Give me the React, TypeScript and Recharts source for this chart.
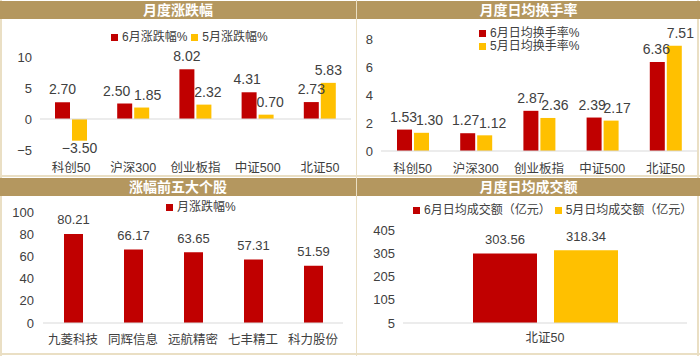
import React from 'react'
import { Bar, BarChart, LabelList, ReferenceLine, XAxis, YAxis } from 'recharts'

// 四宫格：月度涨跌幅 / 月度日均换手率 / 涨幅前五大个股 / 月度日均成交额

const indexNames = ['科创50', '沪深300', '创业板指', '中证500', '北证50']
const juneChange = [2.7, 2.5, 8.02, 4.31, 2.73]
const mayChange = [-3.5, 1.85, 2.32, 0.7, 5.83]
const changeTicks = [-5, 0, 5, 10]

const juneTurnover = [1.53, 1.27, 2.87, 2.39, 6.36]
const mayTurnover = [1.3, 1.12, 2.36, 2.17, 7.51]
const turnoverTicks = [0, 2, 4, 6, 8]

const topStockNames = ['九菱科技', '同辉信息', '远航精密', '七丰精工', '科力股份']
const topStockChange = [80.21, 66.17, 63.65, 57.31, 51.59]
const topStockTicks = [0, 20, 40, 60, 80, 100]

const volumeNames = ['北证50']
const juneVolume = [303.56]
const mayVolume = [318.34]
const volumeTicks = [5, 105, 205, 305, 405]

// 数据标签的水平微调（避免相邻标签重叠，仿原图手动排布）
const changeJunNudge = [0, -8, 0, -2, 0]
const changeMayNudge = [0, 6, 4, 4, 0]
const turnoverJunNudge = [-1, -2, 0, -2, -1]
const turnoverMayNudge = [8, 8, 7, 6, 6]

const RED = '#C00000'
const GOLD = '#FFC000'
const HEADER = '#B4975F'
const EDGE = '#EADFC4'
const TEXT = '#404040'
const AXIS = '#D9D9D9'
const FONT = '"Liberation Sans", "Noto Sans CJK SC", sans-serif'

const changeData = indexNames.map((name, i) => ({ name, jun: juneChange[i], may: mayChange[i] }))
const turnoverData = indexNames.map((name, i) => ({ name, jun: juneTurnover[i], may: mayTurnover[i] }))
const stockData = topStockNames.map((name, i) => ({ name, value: topStockChange[i] }))
const volumeData = volumeNames.map((name, i) => ({ name, jun: juneVolume[i], may: mayVolume[i] }))

const fmtNum = (v: number) => (v < 0 ? '\u2212' + Math.abs(v).toFixed(2) : v.toFixed(2))
const fmtTick = (v: number) => (v < 0 ? '\u2212' + Math.abs(v) : String(v))

const tickStyle = { fill: TEXT, fontSize: 13, fontFamily: FONT }
const catStyle = { fill: TEXT, fontSize: 12.5, fontFamily: FONT }

// 柱顶（负值在柱底）数值标签，可按点水平微调
function valueLabel(nudge: number[] | null, fontSize: number, gap = 5) {
  return (props: any) => {
    const { x, y, width, height, value, index } = props
    const v = Number(value)
    const top = Math.min(y, y + height)
    const bottom = Math.max(y, y + height)
    const cx = x + width / 2 + (nudge ? nudge[index] ?? 0 : 0)
    return (
      <text
        x={cx}
        y={v < 0 ? bottom + 2 : top - gap}
        dy={v < 0 ? '0.75em' : '-0.2em'}
        textAnchor="middle"
        fill={TEXT}
        fontSize={fontSize}
        fontFamily={FONT}
      >
        {fmtNum(v)}
      </text>
    )
  }
}

function Header({ left, top, width, title }: { left: number; top: number; width: number; title: string }) {
  return (
    <div
      style={{
        position: 'absolute',
        left,
        top,
        width,
        height: 18,
        background: HEADER,
        color: '#fff',
        fontFamily: FONT,
        fontWeight: 700,
        fontSize: 14,
        lineHeight: '18px',
        textAlign: 'center',
      }}
    >
      {title}
    </div>
  )
}

function LegendItem({ color, label }: { color: string; label: string }) {
  return (
    <span style={{ display: 'inline-flex', alignItems: 'center', gap: 4 }}>
      <span style={{ width: 7, height: 7, background: color, display: 'inline-block' }} />
      <span>{label}</span>
    </span>
  )
}

function Legend({ left, top, children, column }: { left: number; top: number; children: React.ReactNode; column?: boolean }) {
  return (
    <div
      style={{
        position: 'absolute',
        left,
        top,
        display: 'flex',
        flexDirection: column ? 'column' : 'row',
        gap: column ? 0 : 4,
        fontFamily: FONT,
        fontSize: 12,
        lineHeight: column ? '13px' : '12px',
        color: TEXT,
        whiteSpace: 'nowrap',
      }}
    >
      {children}
    </div>
  )
}

export default function App() {
  return (
    <div style={{ position: 'absolute', left: 0, top: 0, width: 700, height: 356, background: '#fff', overflow: 'hidden' }}>
      {/* 外框与分隔线 */}
      <div style={{ position: 'absolute', left: 0, top: 0, width: 2, height: 356, background: EDGE }} />
      <div style={{ position: 'absolute', left: 697, top: 0, width: 2, height: 356, background: EDGE }} />
      <div style={{ position: 'absolute', left: 0, top: 353, width: 700, height: 2, background: EDGE }} />
      <div style={{ position: 'absolute', left: 0, top: 175, width: 700, height: 2, background: EDGE }} />

      <Header left={0} top={1} width={700} title="" />
      <Header left={0} top={1} width={356} title="月度涨跌幅" />
      <Header left={357} top={1} width={343} title="月度日均换手率" />
      <Header left={0} top={178} width={356} title="涨幅前五大个股" />
      <Header left={357} top={178} width={343} title="月度日均成交额" />
      <div style={{ position: 'absolute', left: 355.5, top: 0, width: 1.5, height: 356, background: EDGE }} />

      {/* 月度涨跌幅 */}
      <div style={{ position: 'absolute', left: 0, top: 19 }}>
        <BarChart width={356} height={156} data={changeData} margin={{ top: 38, right: 5, bottom: 0, left: 0 }} barGap={2}>
          <XAxis dataKey="name" axisLine={false} tickLine={false} tickSize={0} tickMargin={13} height={25} tick={catStyle} />
          <YAxis
            width={40}
            domain={[-5, 10]}
            ticks={changeTicks}
            axisLine={false}
            tickLine={false}
            tickSize={0}
            tickMargin={8}
            tick={tickStyle}
            tickFormatter={fmtTick}
          />
          <ReferenceLine y={0} stroke={AXIS} strokeWidth={1} />
          <Bar dataKey="jun" fill={RED} barSize={15} isAnimationActive={false}>
            <LabelList dataKey="jun" content={valueLabel(changeJunNudge, 14)} />
          </Bar>
          <Bar dataKey="may" fill={GOLD} barSize={15} isAnimationActive={false}>
            <LabelList dataKey="may" content={valueLabel(changeMayNudge, 14)} />
          </Bar>
        </BarChart>
      </div>
      <Legend left={111} top={31}>
        <LegendItem color={RED} label="6月涨跌幅%" />
        <LegendItem color={GOLD} label="5月涨跌幅%" />
      </Legend>

      {/* 月度日均换手率 */}
      <div style={{ position: 'absolute', left: 356, top: 19 }}>
        <BarChart width={344} height={156} data={turnoverData} margin={{ top: 20, right: 3, bottom: 0, left: 0 }} barGap={2}>
          <XAxis
            dataKey="name"
            axisLine={{ stroke: AXIS }}
            tickLine={false}
            tickSize={0}
            tickMargin={13}
            height={24}
            tick={catStyle}
          />
          <YAxis
            width={25}
            domain={[0, 8]}
            ticks={turnoverTicks}
            axisLine={false}
            tickLine={false}
            tickSize={0}
            tickMargin={8}
            tick={tickStyle}
          />
          <Bar dataKey="jun" fill={RED} barSize={15} isAnimationActive={false}>
            <LabelList dataKey="jun" content={valueLabel(turnoverJunNudge, 14)} />
          </Bar>
          <Bar dataKey="may" fill={GOLD} barSize={15} isAnimationActive={false}>
            <LabelList dataKey="may" content={valueLabel(turnoverMayNudge, 14)} />
          </Bar>
        </BarChart>
      </div>
      <Legend left={479} top={27} column>
        <LegendItem color={RED} label="6月日均换手率%" />
        <LegendItem color={GOLD} label="5月日均换手率%" />
      </Legend>

      {/* 涨幅前五大个股 */}
      <div style={{ position: 'absolute', left: 0, top: 196 }}>
        <BarChart width={356} height={157} data={stockData} margin={{ top: 16, right: 13, bottom: 0, left: 0 }}>
          <XAxis
            dataKey="name"
            axisLine={{ stroke: AXIS }}
            tickLine={false}
            tickSize={0}
            tickMargin={12}
            height={30}
            tick={catStyle}
          />
          <YAxis
            width={43}
            domain={[0, 100]}
            ticks={topStockTicks}
            axisLine={false}
            tickLine={false}
            tickSize={0}
            tickMargin={9}
            tick={tickStyle}
          />
          <Bar dataKey="value" fill={RED} barSize={19} isAnimationActive={false}>
            <LabelList dataKey="value" content={valueLabel(null, 13, 7)} />
          </Bar>
        </BarChart>
      </div>
      <Legend left={166} top={201}>
        <LegendItem color={RED} label="月涨跌幅%" />
      </Legend>

      {/* 月度日均成交额 */}
      <div style={{ position: 'absolute', left: 356, top: 196 }}>
        <BarChart width={344} height={157} data={volumeData} margin={{ top: 34, right: 13, bottom: 0, left: 0 }} barGap={17}>
          <XAxis
            dataKey="name"
            axisLine={{ stroke: AXIS }}
            tickLine={false}
            tickSize={0}
            tickMargin={10}
            height={30}
            tick={catStyle}
          />
          <YAxis
            width={47}
            domain={[5, 405]}
            ticks={volumeTicks}
            axisLine={false}
            tickLine={false}
            tickSize={0}
            tickMargin={8}
            tick={tickStyle}
          />
          <Bar dataKey="jun" fill={RED} barSize={64} isAnimationActive={false}>
            <LabelList dataKey="jun" content={valueLabel(null, 13, 7)} />
          </Bar>
          <Bar dataKey="may" fill={GOLD} barSize={64} isAnimationActive={false}>
            <LabelList dataKey="may" content={valueLabel(null, 13, 7)} />
          </Bar>
        </BarChart>
      </div>
      <Legend left={413} top={204}>
        <LegendItem color={RED} label="6月日均成交额（亿元）" />
        <LegendItem color={GOLD} label="5月日均成交额（亿元）" />
      </Legend>
    </div>
  )
}
